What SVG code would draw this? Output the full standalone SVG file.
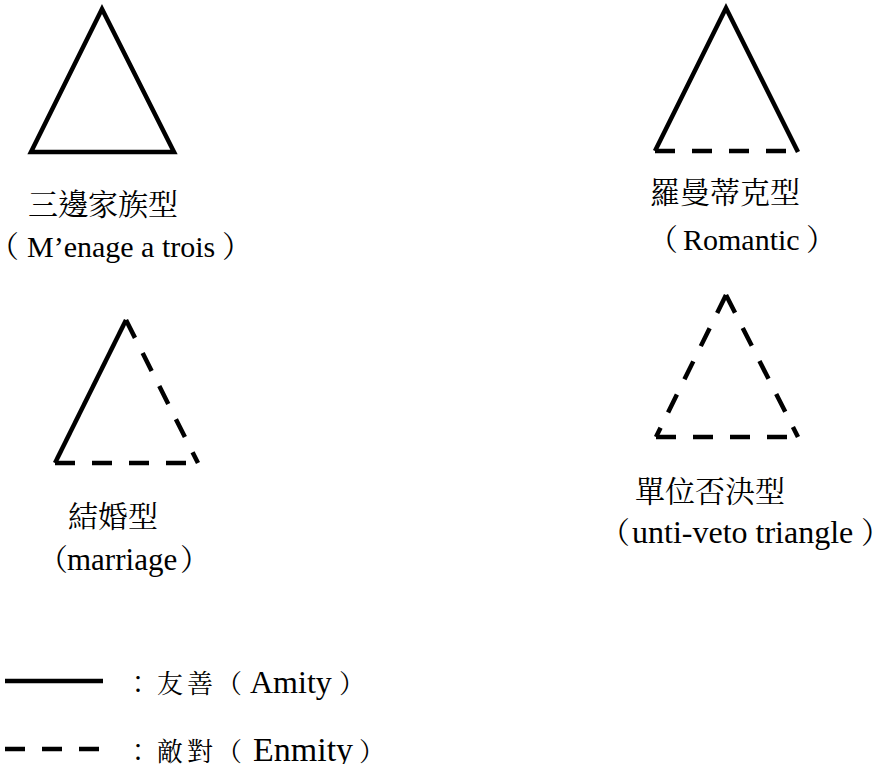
<svg xmlns="http://www.w3.org/2000/svg" width="874" height="764" viewBox="0 0 874 764">
<rect width="874" height="764" fill="#fff"/>
<g id="connectors" stroke="#000" stroke-width="4.5" fill="none" stroke-linejoin="miter" stroke-linecap="butt">
  <g id="tri-menage">
    <path d="M31,152 L102,9 L174,152 Z"/>
  </g>
  <g id="tri-romantic">
    <path d="M655,151 L726,8 L798,152"/>
    <path stroke-dasharray="20 17" d="M655,151 L797,151"/>
  </g>
  <g id="tri-marriage">
    <path d="M55,463 L126,320"/>
    <path stroke-dasharray="20 17" d="M55,463 L198,463"/>
    <path stroke-dasharray="20 17" d="M126,320 L198,463"/>
  </g>
  <g id="tri-veto" stroke-dasharray="20 17">
    <path d="M726,295 L656,437"/>
    <path d="M726,295 L798,437"/>
    <path d="M656,437 L798,437"/>
  </g>
  <g id="legend-lines">
    <path d="M5,681 L103,681"/>
    <path stroke-dasharray="20 17" d="M5,749 L103,749"/>
  </g>
</g>
<g id="label-menage">
  <text x="28" y="215" font-family="Noto Serif CJK TC" font-size="30">三邊家族型</text>
  <text x="-11" y="257" font-family="Noto Serif CJK TC" font-size="30">（</text>
  <text x="27" y="257" font-family="Liberation Serif" font-size="30">M’enage a trois</text>
  <text x="222" y="257" font-family="Noto Serif CJK TC" font-size="30">）</text>
</g>
<g id="label-romantic">
  <text x="650" y="203" font-family="Noto Serif CJK TC" font-size="30">羅曼蒂克型</text>
  <text x="648" y="250" font-family="Noto Serif CJK TC" font-size="30">（</text>
  <text x="683" y="250" font-family="Liberation Serif" font-size="30">Romantic</text>
  <text x="806" y="250" font-family="Noto Serif CJK TC" font-size="30">）</text>
</g>
<g id="label-marriage">
  <text x="68" y="527" font-family="Noto Serif CJK TC" font-size="30">結婚型</text>
  <text x="38" y="570" font-family="Noto Serif CJK TC" font-size="30">（</text>
  <text x="67" y="570" font-family="Liberation Serif" font-size="31">marriage</text>
  <text x="180" y="570" font-family="Noto Serif CJK TC" font-size="30">）</text>
</g>
<g id="label-veto">
  <text x="635" y="502" font-family="Noto Serif CJK TC" font-size="30">單位否決型</text>
  <text x="600" y="543" font-family="Noto Serif CJK TC" font-size="30">（</text>
  <text x="632" y="543" font-family="Liberation Serif" font-size="32">unti-veto triangle</text>
  <text x="861" y="543" font-family="Noto Serif CJK TC" font-size="30">）</text>
</g>
<g id="legend">
  <text x="125 157 187" y="693" font-family="Noto Serif CJK TC" font-size="26">：友善</text>
  <text x="216" y="693" font-family="Noto Serif CJK TC" font-size="26">（</text>
  <text x="250" y="693" font-family="Liberation Serif" font-size="32">Amity</text>
  <text x="339" y="693" font-family="Noto Serif CJK TC" font-size="26">）</text>
  <text x="125 157 187" y="761" font-family="Noto Serif CJK TC" font-size="26">：敵對</text>
  <text x="216" y="761" font-family="Noto Serif CJK TC" font-size="26">（</text>
  <text x="253" y="761" font-family="Liberation Serif" font-size="34">Enmity</text>
  <text x="359" y="761" font-family="Noto Serif CJK TC" font-size="26">）</text>
</g>
</svg>
